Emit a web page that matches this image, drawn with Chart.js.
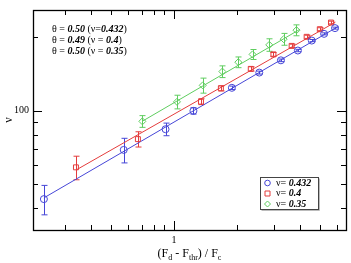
<!DOCTYPE html>
<html><head><meta charset="utf-8">
<script src="https://cdn.jsdelivr.net/npm/chart.js@4/dist/chart.umd.min.js"></script>
<style>html,body{margin:0;padding:0;background:#fff;}#wrap{width:351px;height:263px;position:relative;}</style>
</head><body><div id="wrap"><canvas id="c" width="351" height="263"></canvas></div>
<script>
// ---- data ----
const blueX = [0.239, 0.575, 0.911, 1.238, 1.889, 2.554, 3.24, 3.904, 4.55, 5.21, 5.875];
const blueY = [43.5, 69.2, 84.1, 100, 124.3, 143.5, 161.1, 176.7, 194.1, 206.8, 218.3];
const blueErr = [6, 8, 5, 3, 2, 2, 2, 2, 2, 2, 2];
const redX = [0.34, 0.672, 1.345, 1.674, 2.326, 2.984, 3.646, 4.30, 4.97, 5.62];
const redY = [58.7, 76.6, 109.1, 123.7, 148.6, 170.4, 184.6, 201.1, 216.1, 230.1];
const redErr = [6.5, 5.5, 3, 3, 3, 3, 3, 3, 3, 3];
const greenX = [0.706, 1.033, 1.371, 1.702, 2.028, 2.372, 2.85, 3.34, 3.845];
const greenY = [90.6, 108.9, 127.2, 144.9, 158.3, 170.4, 186.4, 196.7, 214.1];
const greenErr = [5, 7, 9, 8, 8, 8, 11, 11, 11];
const blueFitX = [0.239, 6.1], blueFitY = [44, 222];
const redFitX = [0.34, 5.9], redFitY = [57.2, 231];
const greenFitX = [0.706, 4.0], greenFitY = [90.7, 216];
const xMajorTicks = [1];
const xMinorTicks = [0.3, 0.4, 0.5, 0.6, 0.7, 0.8, 0.9, 2, 3, 4, 5, 6];
const yMajorTicks = [100];
const yMinorTicks = [40, 50, 60, 70, 80, 90, 200];
const seriesNames = ['0.432', '0.4', '0.35'];
const thetaValues = ['0.50', '0.49', '0.50'];
const nuValues = ['0.432', '0.4', '0.35'];

const BLUE = 'rgb(70,70,215)', RED = 'rgb(228,60,60)', GREEN = 'rgb(95,205,95)';
const SERIF = '"Liberation Serif","DejaVu Serif",serif';

function pts(xs, ys) { return xs.map((x, i) => ({x: x, y: ys[i]})); }

const errs = [
  {xs: blueX, ys: blueY, e: blueErr, c: BLUE},
  {xs: redX, ys: redY, e: redErr, c: RED},
  {xs: greenX, ys: greenY, e: greenErr, c: GREEN}
];

function drawRich(ctx, parts, x, y, size) {
  let cx = x;
  for (const p of parts) {
    ctx.font = (p.b ? 'italic bold ' : '') + size + 'px ' + SERIF;
    ctx.fillText(p.t, cx, y);
    cx += ctx.measureText(p.t).width;
  }
  return cx;
}

const deco = {
  id: 'deco',
  beforeDatasetsDraw(chart) {
    const ctx = chart.ctx, xs = chart.scales.x, ys = chart.scales.y;
    ctx.save();
    ctx.lineWidth = 1;
    for (const s of errs) {
      ctx.strokeStyle = s.c;
      s.xs.forEach((xv, i) => {
        const px = Math.round(xs.getPixelForValue(xv)) + 0.5;
        const y1 = ys.getPixelForValue(s.ys[i] + s.e[i]);
        const y2 = ys.getPixelForValue(s.ys[i] - s.e[i]);
        ctx.beginPath();
        ctx.moveTo(px, y1); ctx.lineTo(px, y2);
        ctx.moveTo(px - 3, y1); ctx.lineTo(px + 3, y1);
        ctx.moveTo(px - 3, y2); ctx.lineTo(px + 3, y2);
        ctx.stroke();
      });
    }
    ctx.restore();
  },
  afterDraw(chart) {
    const ctx = chart.ctx, a = chart.chartArea, xs = chart.scales.x, ys = chart.scales.y;
    ctx.save();
    ctx.strokeStyle = '#000'; ctx.lineWidth = 1.3;
    ctx.strokeRect(Math.round(a.left) + 0.5, Math.round(a.top) + 0.5, Math.round(a.right - a.left), Math.round(a.bottom - a.top));
    ctx.lineWidth = 1;
    ctx.beginPath();
    const tick = (v, len, horiz) => {
      if (horiz) {
        const p = Math.round(xs.getPixelForValue(v)) + 0.5;
        ctx.moveTo(p, a.bottom); ctx.lineTo(p, a.bottom - len);
        ctx.moveTo(p, a.top); ctx.lineTo(p, a.top + len);
      } else {
        const p = Math.round(ys.getPixelForValue(v)) + 0.5;
        ctx.moveTo(a.left, p); ctx.lineTo(a.left + len, p);
        ctx.moveTo(a.right, p); ctx.lineTo(a.right - len, p);
      }
    };
    xMajorTicks.forEach(v => tick(v, 9, true));
    xMinorTicks.forEach(v => tick(v, 5, true));
    yMajorTicks.forEach(v => tick(v, 9, false));
    yMinorTicks.forEach(v => tick(v, 5, false));
    ctx.stroke();
    // tick labels
    ctx.fillStyle = '#000';
    ctx.font = '10px ' + SERIF;
    ctx.textAlign = 'center'; ctx.textBaseline = 'top';
    xMajorTicks.forEach(v => ctx.fillText(String(v), xs.getPixelForValue(v), a.bottom + 5));
    ctx.textAlign = 'right'; ctx.textBaseline = 'middle';
    yMajorTicks.forEach(v => ctx.fillText(String(v), a.left - 4, ys.getPixelForValue(v)));
    // axis titles
    ctx.save();
    ctx.translate(9, 120);
    ctx.rotate(-Math.PI / 2);
    ctx.textAlign = 'center'; ctx.textBaseline = 'middle';
    ctx.font = '12px ' + SERIF;
    ctx.fillText('ν', 0, 0);
    ctx.restore();
    // x title with subscripts
    ctx.textAlign = 'left'; ctx.textBaseline = 'alphabetic';
    const xt = [['(F', 0], ['d', 1], [' - F', 0], ['thr', 1], [') / F', 0], ['c', 1]];
    let w = 0;
    xt.forEach(p => { ctx.font = (p[1] ? '8px ' : '12px ') + SERIF; w += ctx.measureText(p[0]).width; });
    let cx = (a.left + a.right) / 2 - w / 2;
    const by = 257;
    xt.forEach(p => {
      ctx.font = (p[1] ? '8px ' : '12px ') + SERIF;
      ctx.fillText(p[0], cx, p[1] ? by + 3 : by);
      cx += ctx.measureText(p[0]).width;
    });
    // annotations
    ctx.textBaseline = 'middle';
    const ay = [29, 40, 51];
    for (let i = 0; i < 3; i++) {
      const nuTxt = i === 0 ? ' (ν=' : ' (ν = ';
      drawRich(ctx, [{t: 'θ = '}, {t: thetaValues[i], b: 1}, {t: nuTxt}, {t: nuValues[i], b: 1}, {t: ')'}], a.left + 19, ay[i], 10);
    }
    // legend
    const lx = 260, ly = 177, lw = 58, lh = 32;
    ctx.fillStyle = '#fff';
    ctx.fillRect(lx, ly, lw, lh);
    ctx.strokeStyle = '#444'; ctx.lineWidth = 1;
    ctx.strokeRect(lx + 0.5, ly + 0.5, lw, lh);
    ctx.strokeStyle = '#bbb';
    ctx.beginPath(); ctx.moveTo(lx + 1.5, ly + lh + 1.5); ctx.lineTo(lx + lw + 1.5, ly + lh + 1.5); ctx.lineTo(lx + lw + 1.5, ly + 1.5); ctx.stroke();
    const cols = [BLUE, RED, GREEN];
    for (let i = 0; i < 3; i++) {
      const yy = ly + 6 + i * 10.5;
      ctx.strokeStyle = cols[i]; ctx.lineWidth = 1;
      ctx.beginPath();
      const mx = lx + 7.5;
      if (i === 0) ctx.arc(mx, yy, 2.8, 0, Math.PI * 2);
      else if (i === 1) ctx.rect(mx - 2.5, yy - 2.5, 5, 5);
      else { ctx.moveTo(mx, yy - 3); ctx.lineTo(mx + 3, yy); ctx.lineTo(mx, yy + 3); ctx.lineTo(mx - 3, yy); ctx.closePath(); }
      ctx.stroke();
      ctx.fillStyle = '#000';
      drawRich(ctx, [{t: 'ν= '}, {t: seriesNames[i], b: 1}], lx + 16, yy, 10);
    }
    ctx.restore();
  }
};

const lineDs = (xs, ys, c) => ({type: 'line', data: pts(xs, ys), borderColor: c, borderWidth: 1, pointRadius: 0, fill: false, tension: 0, order: 5});
const ptDs = (xs, ys, c, style, r) => ({type: 'scatter', data: pts(xs, ys), borderColor: c, backgroundColor: 'rgba(0,0,0,0)', pointStyle: style, pointRadius: r, pointBorderWidth: 1, showLine: false, order: 1});

new Chart(document.getElementById('c'), {
  data: {
    datasets: [
      lineDs(blueFitX, blueFitY, BLUE),
      lineDs(redFitX, redFitY, RED),
      lineDs(greenFitX, greenFitY, GREEN),
      ptDs(blueX, blueY, BLUE, 'circle', 3.5),
      ptDs(redX, redY, RED, 'rect', 3.5),
      ptDs(greenX, greenY, GREEN, 'rectRot', 3.5)
    ]
  },
  options: {
    responsive: false, animation: false,
    layout: {padding: {left: 33, top: 10, right: 4, bottom: 33}},
    plugins: {legend: {display: false}, tooltip: {enabled: false}},
    scales: {
      x: {type: 'logarithmic', min: 0.212, max: 6.63, ticks: {display: false}, grid: {display: false}, border: {display: false}, afterFit: s => { s.height = 0; s.paddingLeft = 0; s.paddingRight = 0; }},
      y: {type: 'logarithmic', min: 32.5, max: 259, ticks: {display: false}, grid: {display: false}, border: {display: false}, afterFit: s => { s.width = 0; s.paddingTop = 0; s.paddingBottom = 0; }}
    }
  },
  plugins: [deco]
});
</script></body></html>
